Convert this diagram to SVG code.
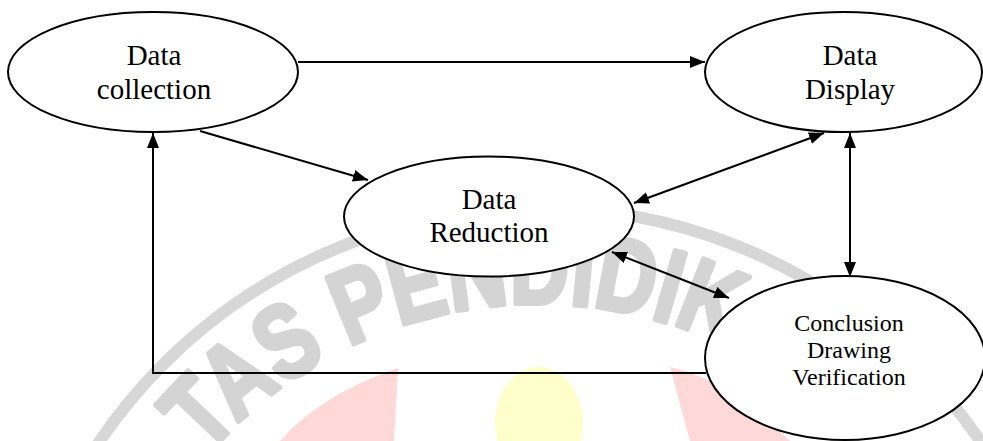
<svg xmlns="http://www.w3.org/2000/svg" width="983" height="441" viewBox="0 0 983 441">
<defs>
<style>
.n ellipse{fill:#fff;stroke:#000;stroke-width:2}
.t{font-family:"Liberation Serif","Times New Roman",serif;font-size:29px;fill:#000;text-anchor:middle}
.s{font-size:24px}
.c{fill:none;stroke:#000;stroke-width:2}
.wm{font-family:"Liberation Sans",Arial,sans-serif;font-weight:bold;font-size:104px;fill:#d4d4d4;stroke:#d4d4d4;stroke-width:5;stroke-linejoin:round}
</style>
<marker id="ah" viewBox="0 0 15 12" refX="15" refY="6" markerWidth="15" markerHeight="12" markerUnits="userSpaceOnUse" orient="auto-start-reverse">
<path d="M0,0 L15,6 L0,12 z" fill="#000"/>
</marker>
<path id="arc" d="M 206.9 455.6 A 438 438 0 0 1 800 390"/>
</defs>
<rect width="983" height="441" fill="#fff"/>
<g id="watermark">
<circle cx="540" cy="740" r="532" fill="none" stroke="#d7d7d7" stroke-width="12"/>
<path d="M 280 441 Q 320 395 398 368 L 394 441 z" fill="#ffd8d8"/>
<path d="M 670 367 Q 730 380 790 441 L 690 441 z" fill="#ffd8d8"/>
<ellipse cx="539" cy="423" rx="44" ry="56" fill="#ffffcc"/>
<text class="wm"><textPath href="#arc" textLength="570" lengthAdjust="spacingAndGlyphs">TAS PENDIDIK</textPath></text>
</g>
<g id="connectors">
<line class="c" x1="298" y1="62" x2="705" y2="62" marker-end="url(#ah)"/>
<line class="c" x1="200" y1="131" x2="368" y2="180" marker-end="url(#ah)"/>
<line class="c" x1="634" y1="203" x2="824" y2="133" marker-start="url(#ah)" marker-end="url(#ah)"/>
<line class="c" x1="850" y1="133" x2="850" y2="277" marker-start="url(#ah)" marker-end="url(#ah)"/>
<line class="c" x1="612" y1="252" x2="729" y2="298" marker-start="url(#ah)" marker-end="url(#ah)"/>
<polyline class="c" points="706,373 153,373 153,133" marker-end="url(#ah)"/>
</g>
<g id="data-collection" class="n">
<ellipse cx="153" cy="72" rx="145" ry="60"/>
<text class="t" x="154" y="65">Data</text>
<text class="t" x="154" y="99">collection</text>
</g>
<g id="data-display" class="n">
<ellipse cx="843.5" cy="72" rx="138.5" ry="60"/>
<text class="t" x="850" y="65">Data</text>
<text class="t" x="850" y="99">Display</text>
</g>
<g id="data-reduction" class="n">
<ellipse cx="489" cy="216.5" rx="145" ry="60"/>
<text class="t" x="489" y="209">Data</text>
<text class="t" x="489" y="242">Reduction</text>
</g>
<g id="conclusion" class="n">
<ellipse cx="845" cy="358" rx="140" ry="82"/>
<text class="t s" x="849" y="331">Conclusion</text>
<text class="t s" x="849" y="358">Drawing</text>
<text class="t s" x="849" y="385">Verification</text>
</g>
</svg>
